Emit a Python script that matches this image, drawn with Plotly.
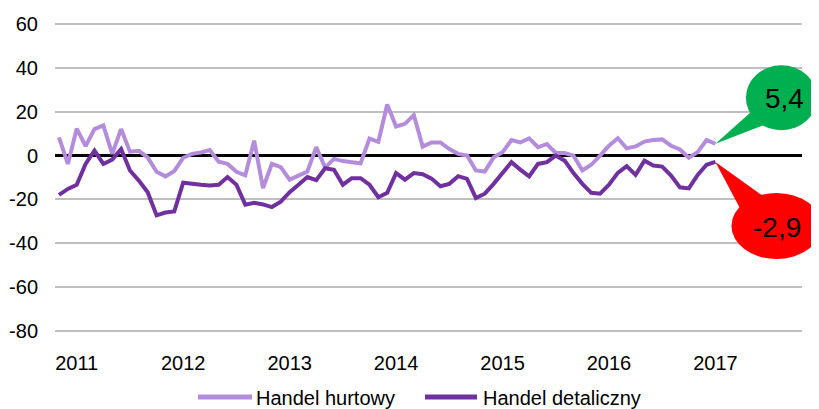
import plotly.graph_objects as go

# Monthly data, Nov 2010 .. Jan 2017 (index 0 = Nov 2010)
hurtowy = [8.3, -3.8, 12.3, 4.3, 12.1, 13.8, 0.8, 12.1, 1.8, 2.2,
           -0.8, -7.4, -9.5, -7.0, -1.0, 0.8, 1.4, 2.5, -2.8, -3.8,
           -7.4, -9.0, 6.8, -14.8, -3.8, -5.3, -11.0, -9.0, -7.3, 3.9,
           -5.5, -1.5, -2.5, -3.0, -3.5, 7.8, 6.3, 23.3, 13.3, 14.5,
           18.5, 4.1, 6.0, 6.0, 3.0, 0.8, 0.0, -6.8, -7.3, -0.8,
           1.5, 7.1, 6.0, 7.9, 3.8, 5.3, 1.2, 1.2, 0.0, -6.8,
           -4.2, 0.0, 4.5, 7.9, 3.3, 4.2, 6.4, 7.1, 7.4, 4.5,
           2.8, -1.0, 1.6, 7.1, 5.4]
detaliczny = [-17.9, -15.2, -13.3, -3.8, 2.3, -3.8, -1.8, 3.0, -6.8, -11.4,
              -16.7, -27.3, -26.0, -25.5, -12.4, -13.0, -13.3, -13.6, -13.3, -9.8,
              -13.3, -22.4, -21.5, -22.3, -23.5, -21.0, -16.7, -13.3, -9.8, -11.2,
              -5.8, -6.5, -13.3, -10.3, -10.3, -13.3, -19.0, -17.0, -8.0, -11.0,
              -8.0, -8.5, -10.5, -14.0, -12.9, -9.4, -10.6, -19.4, -17.4, -12.9,
              -7.9, -3.0, -6.4, -9.5, -3.8, -3.0, 0.0, -2.3, -8.0, -12.9,
              -17.0, -17.4, -13.3, -7.9, -4.8, -8.8, -2.3, -4.5, -5.0, -9.1,
              -14.5, -15.0, -8.8, -4.2, -2.9]
months = list(range(len(hurtowy)))
year_labels = ["2011", "2012", "2013", "2014", "2015", "2016", "2017"]
year_pos = [2 + 12 * k for k in range(len(year_labels))]
y_ticks = [60, 40, 20, 0, -20, -40, -60, -80]
y_labels = ["60", "40", "20", "0", "-20", "-40", "-60", "-80"]
series_names = ["Handel hurtowy", "Handel detaliczny"]
series_colors = ["#B48CDC", "#7030A0"]
callout_texts = ["5,4", "-2,9"]

FONT = "Liberation Sans, Arial, sans-serif"
OFF = 8  # page body margin
W, H = 819 - OFF, 409 - OFF
ML, MT = 55 - OFF, 14
MR, MB = 17, 76
PW, PH = W - ML - MR, H - MT - MB
XR = [-0.45, 83.76]
YR = [-81, 61]

fig = go.Figure()
for name, vals, col in zip(series_names, [hurtowy, detaliczny], series_colors):
    fig.add_trace(go.Scatter(x=months, y=vals, mode="lines", name=name,
                             line=dict(color=col, width=4), showlegend=False))


def to_paper(x, y):
    return (x - XR[0]) / (XR[1] - XR[0]), (y - YR[0]) / (YR[1] - YR[0])


def px_paper(px, py):
    # px, py measured in page pixels of the 819x409 window
    return (px - OFF - ML) / PW, (H - MB - (py - OFF)) / PH


def callout(xv, yv, color, text, c_off, semi, b1, b2, t_off):
    tx, ty = to_paper(xv, yv)

    def p(off):
        return tx + off[0] / PW, ty - off[1] / PH

    cx, cy = p(c_off)
    ax, ay = semi[0] / PW, semi[1] / PH
    fig.add_shape(type="circle", xref="paper", yref="paper",
                  x0=cx - ax, x1=cx + ax, y0=cy - ay, y1=cy + ay,
                  fillcolor=color, line=dict(width=0), layer="above")
    q1, q2 = p(b1), p(b2)
    fig.add_shape(type="path", xref="paper", yref="paper",
                  path=f"M {tx},{ty} L {q1[0]},{q1[1]} L {q2[0]},{q2[1]} Z",
                  fillcolor=color, line=dict(width=0), layer="above")
    lx, ly = p(t_off)
    fig.add_annotation(x=lx, y=ly, xref="paper", yref="paper", text=text,
                       showarrow=False, font=dict(family=FONT, size=28, color="#000000"),
                       xanchor="center", yanchor="middle")


last = len(hurtowy) - 1
callout(months[last], hurtowy[last], "#00B050", callout_texts[0],
        (66, -46), (35.5, 32.5), (37, -33), (49, -19), (69, -45))
callout(months[last], detaliczny[last], "#FF0000", callout_texts[1],
        (61, 64), (45, 33), (26, 49), (49, 35), (62, 66))

# legend drawn manually (line sample + label)
legend_items = [(198, 252, 254), (425, 477, 481)]
for (l0, l1, tx), name, col in zip(legend_items, series_names, series_colors):
    a0, yy = px_paper(l0, 397)
    a1, _ = px_paper(l1, 397)
    fig.add_shape(type="line", xref="paper", yref="paper", x0=a0, x1=a1, y0=yy, y1=yy,
                  line=dict(color=col, width=5))
    t, ty = px_paper(tx, 398)
    fig.add_annotation(x=t, y=ty, xref="paper", yref="paper", text=name, showarrow=False,
                       xanchor="left", yanchor="middle",
                       font=dict(family=FONT, size=20, color="#000000"))

fig.update_layout(
    width=W, height=H,
    margin=dict(l=ML, r=MR, t=MT, b=MB, autoexpand=False),
    paper_bgcolor="white", plot_bgcolor="white",
    font=dict(family=FONT, size=20, color="#000000"),
    showlegend=False,
    xaxis=dict(range=XR, tickmode="array", tickvals=year_pos, ticktext=year_labels,
               showgrid=False, zeroline=False, showline=False, ticks="",
               ticklabelstandoff=16, automargin=False, tickfont=dict(family=FONT, size=20)),
    yaxis=dict(range=YR, tickmode="array", tickvals=y_ticks, ticktext=y_labels,
               showgrid=True, gridcolor="#BFBFBF", gridwidth=2,
               zeroline=True, zerolinecolor="#000000", zerolinewidth=2.5,
               showline=False, ticks="", ticklabelstandoff=16, automargin=False,
               tickfont=dict(family=FONT, size=20)),
)

fig.write_html("out.html")
